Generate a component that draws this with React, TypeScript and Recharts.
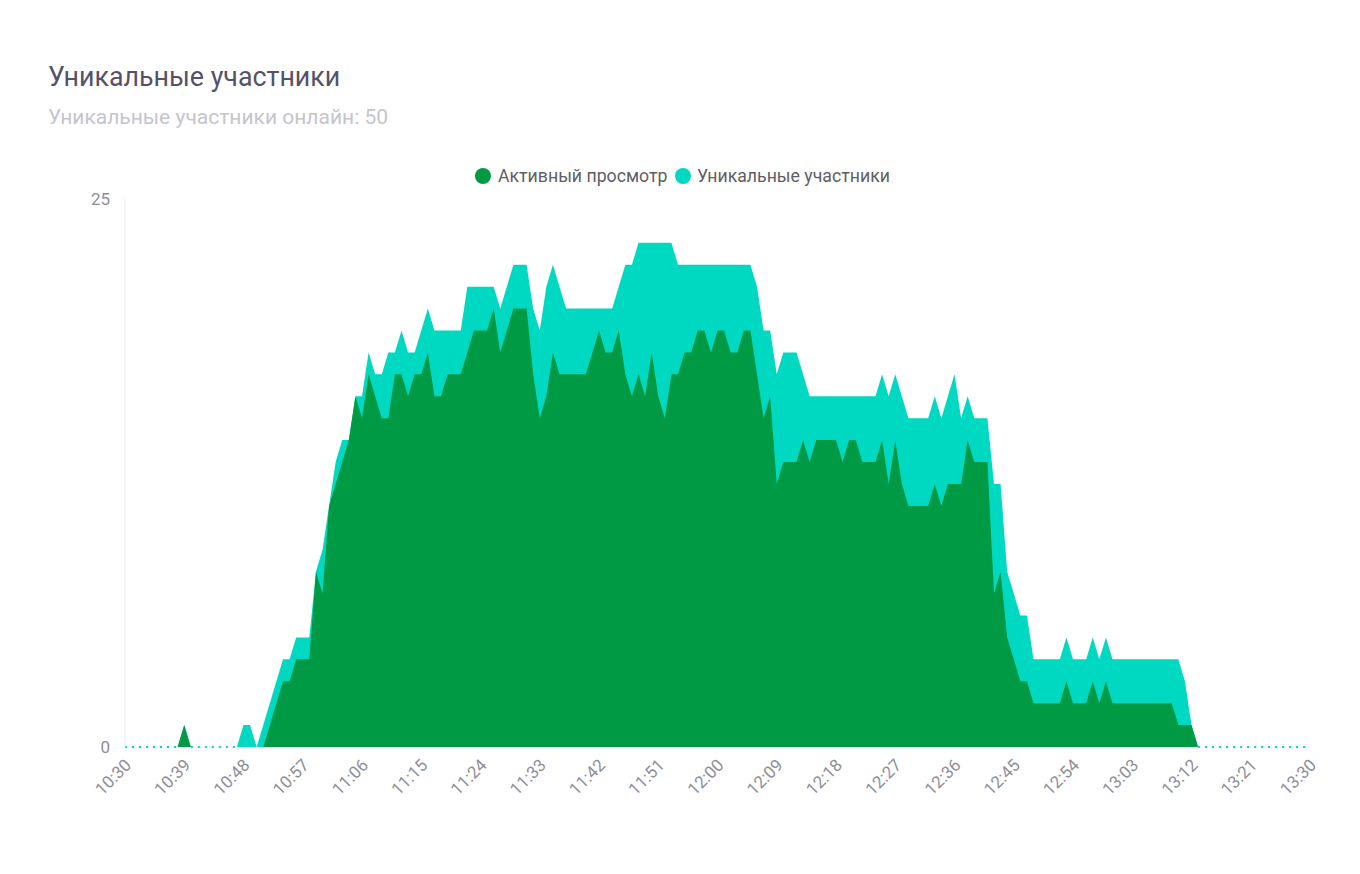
import React from 'react';
import { ComposedChart, Area, Line, XAxis, YAxis } from 'recharts';

const TICK_MINUTES = [0, 9, 18, 27, 36, 45, 54, 63, 72, 81, 90, 99, 108, 117, 126, 135, 144, 153, 162, 171, 180];
const TICK_LABELS = ['10:30', '10:39', '10:48', '10:57', '11:06', '11:15', '11:24', '11:33', '11:42', '11:51', '12:00', '12:09', '12:18', '12:27', '12:36', '12:45', '12:54', '13:03', '13:12', '13:21', '13:30'];
const Y_TICKS = [0, 25];

// one value per minute starting at 10:30
const UNIQUE = [
  0, 0, 0, 0, 0, 0, 0, 0, 0, 1,
  0, 0, 0, 0, 0, 0, 0, 0, 1, 1,
  0, 1, 2, 3, 4, 4, 5, 5, 5, 8,
  9, 11, 13, 14, 14, 16, 16, 18, 17, 17,
  18, 18, 19, 18, 18, 19, 20, 19, 19, 19,
  19, 19, 21, 21, 21, 21, 21, 20, 21, 22,
  22, 22, 20, 19, 21, 22, 21, 20, 20, 20,
  20, 20, 20, 20, 20, 21, 22, 22, 23, 23,
  23, 23, 23, 23, 22, 22, 22, 22, 22, 22,
  22, 22, 22, 22, 22, 22, 21, 19, 19, 17,
  18, 18, 18, 17, 16, 16, 16, 16, 16, 16,
  16, 16, 16, 16, 16, 17, 16, 17, 16, 15,
  15, 15, 15, 16, 15, 16, 17, 15, 16, 15,
  15, 15, 12, 12, 8, 7, 6, 6, 4, 4,
  4, 4, 4, 5, 4, 4, 4, 5, 4, 5,
  4, 4, 4, 4, 4, 4, 4, 4, 4, 4,
  4, 3, 1, 0, 0, 0, 0, 0, 0, 0,
  0, 0, 0, 0, 0, 0, 0, 0, 0, 0,
  0,
];

const ACTIVE = [
  0, 0, 0, 0, 0, 0, 0, 0, 0, 1,
  0, 0, 0, 0, 0, 0, 0, 0, 0, 0,
  0, 0, 1, 2, 3, 3, 4, 4, 4, 8,
  7, 11, 12, 13, 14, 16, 15, 17, 16, 15,
  15, 17, 17, 16, 17, 17, 18, 16, 16, 17,
  17, 17, 18, 19, 19, 19, 20, 18, 19, 20,
  20, 20, 17, 15, 16, 18, 17, 17, 17, 17,
  17, 18, 19, 18, 18, 19, 17, 16, 17, 16,
  18, 16, 15, 17, 17, 18, 18, 19, 19, 18,
  19, 19, 18, 18, 19, 19, 17, 15, 16, 12,
  13, 13, 13, 14, 13, 14, 14, 14, 14, 13,
  14, 14, 13, 13, 13, 14, 12, 14, 12, 11,
  11, 11, 11, 12, 11, 12, 12, 12, 14, 13,
  13, 13, 7, 8, 5, 4, 3, 3, 2, 2,
  2, 2, 2, 3, 2, 2, 2, 3, 2, 3,
  2, 2, 2, 2, 2, 2, 2, 2, 2, 2,
  1, 1, 1, 0, 0, 0, 0, 0, 0, 0,
  0, 0, 0, 0, 0, 0, 0, 0, 0, 0,
  0,
];

const GREEN = '#009944';
const TEAL = '#00d9c2';

const data = UNIQUE.map((u, i) => ({
  m: i,
  unique: u,
  active: ACTIVE[i],
  zero: u === 0 ? 0 : null,
}));

const XTick = (props: any) => {
  const { x, y, payload } = props;
  const idx = TICK_MINUTES.indexOf(payload.value);
  const px = x + 3;
  const py = y + 15;
  return (
    <text
      x={px}
      y={py}
      transform={`rotate(-45, ${px}, ${py})`}
      textAnchor="end"
      dominantBaseline="central"
      fill="#8e8e98"
      fontSize={17}
      fontFamily="Roboto"
    >
      {TICK_LABELS[idx]}
    </text>
  );
};

export default function App() {
  return (
    <div style={{ position: 'absolute', left: 0, top: 0, width: 1360, height: 874, background: '#fff', fontFamily: 'Roboto' }}>
      <div style={{ position: 'absolute', left: 48, top: 64, fontSize: 26.8, lineHeight: '27px', color: '#55516a', whiteSpace: 'nowrap' }}>
        Уникальные участники
      </div>
      <div style={{ position: 'absolute', left: 48, top: 107, fontSize: 21, lineHeight: '21px', color: '#c6c4cc', whiteSpace: 'nowrap' }}>
        Уникальные участники онлайн: 50
      </div>
      <div style={{ position: 'absolute', left: 475, top: 168, width: 16, height: 16, borderRadius: 8, background: GREEN }} />
      <div style={{ position: 'absolute', left: 498, top: 167, fontSize: 17.7, lineHeight: '18px', color: '#5e5e64', whiteSpace: 'nowrap' }}>
        Активный просмотр
      </div>
      <div style={{ position: 'absolute', left: 675, top: 168, width: 16, height: 16, borderRadius: 8, background: TEAL }} />
      <div style={{ position: 'absolute', left: 697, top: 167, fontSize: 17.7, lineHeight: '18px', color: '#5e5e64', whiteSpace: 'nowrap' }}>
        Уникальные участники
      </div>
      <div style={{ position: 'absolute', left: 0, top: 0 }}>
        <ComposedChart width={1360} height={874} data={data} margin={{ top: 199, right: 50, bottom: 67, left: 65 }}>
          <XAxis
            dataKey="m"
            type="number"
            domain={[0, 180]}
            ticks={TICK_MINUTES}
            interval={0}
            axisLine={false}
            tickLine={false}
            tickSize={0}
            tickMargin={0}
            height={60}
            tick={<XTick />}
          />
          <YAxis
            type="number"
            domain={[0, 25]}
            ticks={Y_TICKS}
            width={60}
            axisLine={{ stroke: '#ececee' }}
            tickLine={false}
            tickSize={0}
            tickMargin={15}
            tick={{ fill: '#8e8e98', fontSize: 17, fontFamily: 'Roboto' }}
          />
          <Area
            type="linear"
            dataKey="unique"
            stroke="none"
            fill={TEAL}
            fillOpacity={1}
            dot={false}
            activeDot={false}
            isAnimationActive={false}
          />
          <Area
            type="linear"
            dataKey="active"
            stroke="none"
            fill={GREEN}
            fillOpacity={1}
            dot={false}
            activeDot={false}
            isAnimationActive={false}
          />
          <Line
            dataKey="zero"
            stroke={TEAL}
            strokeWidth={2}
            strokeDasharray="2 5"
            dot={false}
            activeDot={false}
            connectNulls={false}
            legendType="none"
            isAnimationActive={false}
          />
        </ComposedChart>
      </div>
    </div>
  );
}
